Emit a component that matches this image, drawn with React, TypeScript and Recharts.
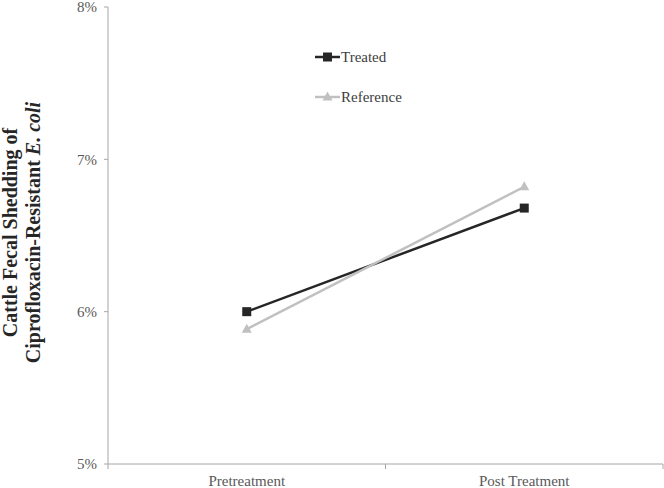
import React from 'react';
import { LineChart, Line, XAxis, YAxis, Legend } from 'recharts';

const categories = ['Pretreatment', 'Post Treatment'];
const seriesNames = ['Treated', 'Reference'];
const treated = [6.0, 6.68];
const reference = [5.885, 6.82];
const yTicks = [5, 6, 7, 8];

const data = categories.map((c, i) => ({
  name: c,
  pos: i + 0.5,
  Treated: treated[i],
  Reference: reference[i],
}));

const xTicks: number[] = [];
for (let i = 0; i <= categories.length; i++) {
  xTicks.push(i);
  if (i < categories.length) xTicks.push(i + 0.5);
}

const FONT = '"Liberation Serif", "Times New Roman", serif';
const AXIS_COLOR = '#a6a6a6';
const TEXT_COLOR = '#595959';
const TREATED_COLOR = '#262626';
const REF_COLOR = '#c0c0c0';

const XTick = (props: any) => {
  const { x, y, payload } = props;
  const v = payload.value;
  if (Number.isInteger(v)) {
    return <line x1={x} x2={x} y1={y} y2={y + 5} stroke={AXIS_COLOR} strokeWidth={1} />;
  }
  const idx = Math.floor(v);
  return (
    <text x={x} y={y + 22} textAnchor="middle" fontFamily={FONT} fontSize={15} fill={TEXT_COLOR}>
      {categories[idx]}
    </text>
  );
};

const SquareDot = (props: any) => {
  const { cx, cy, index } = props;
  return <rect key={`s${index}`} x={cx - 4.5} y={cy - 4.5} width={9} height={9} fill={TREATED_COLOR} />;
};

const TriDot = (props: any) => {
  const { cx, cy, index } = props;
  return (
    <polygon
      key={`t${index}`}
      points={`${cx},${cy - 5.5} ${cx + 5},${cy + 3.5} ${cx - 5},${cy + 3.5}`}
      fill={REF_COLOR}
    />
  );
};

const YLabel = (props: any) => {
  const vb = props.viewBox || {};
  const cy = vb.y + vb.height / 2 - 3;
  const l1x = 17;
  const l2x = 40;
  return (
    <g>
      <text
        x={l1x}
        y={cy}
        transform={`rotate(-90, ${l1x}, ${cy})`}
        textAnchor="middle"
        fontFamily={FONT}
        fontSize={20}
        fontWeight="bold"
        fill="#262626"
      >
        Cattle Fecal Shedding of
      </text>
      <text
        x={l2x}
        y={cy}
        transform={`rotate(-90, ${l2x}, ${cy})`}
        textAnchor="middle"
        fontFamily={FONT}
        fontSize={20}
        fontWeight="bold"
        fill="#262626"
      >
        Ciprofloxacin-Resistant <tspan fontStyle="italic">E. coli</tspan>
      </text>
    </g>
  );
};

const LegendContent = (props: any) => {
  const { payload } = props;
  const entries = [...(payload || [])].sort(
    (a: any, b: any) => seriesNames.indexOf(a.value) - seriesNames.indexOf(b.value)
  );
  return (
    <div style={{ fontFamily: FONT, fontSize: 15, color: '#404040' }}>
      {entries.map((entry: any, i: number) => (
        <div key={i} style={{ display: 'flex', alignItems: 'center', height: 20, marginBottom: 20 }}>
          <svg width={25} height={14} style={{ display: 'block' }}>
            <line x1={0} x2={25} y1={7} y2={7} stroke={entry.color} strokeWidth={2.5} />
            {entry.value === 'Treated' ? (
              <rect x={8} y={2.5} width={9} height={9} fill={TREATED_COLOR} />
            ) : (
              <polygon points="12.5,1.5 17.5,10.5 7.5,10.5" fill={REF_COLOR} />
            )}
          </svg>
          <span style={{ marginLeft: 1 }}>{entry.value}</span>
        </div>
      ))}
    </div>
  );
};

export default function App() {
  return (
    <div style={{ position: 'absolute', left: 0, top: 0, background: '#fff' }}>
      <LineChart width={664} height={488} data={data} margin={{ top: 7, right: 1, bottom: 0, left: 0 }}>
        <XAxis
          dataKey="pos"
          type="number"
          domain={[0, categories.length]}
          ticks={xTicks}
          interval={0}
          height={24}
          tickSize={0}
          tickMargin={0}
          tickLine={false}
          axisLine={{ stroke: AXIS_COLOR, strokeWidth: 1 }}
          tick={<XTick />}
        />
        <YAxis
          type="number"
          domain={[5, 8]}
          ticks={yTicks}
          interval={0}
          width={108}
          tickSize={4}
          tickMargin={7}
          tickLine={{ stroke: AXIS_COLOR }}
          axisLine={{ stroke: AXIS_COLOR, strokeWidth: 1 }}
          tick={{ fontFamily: FONT, fontSize: 15, fill: TEXT_COLOR }}
          tickFormatter={(v: number) => `${v}%`}
          label={<YLabel />}
        />
        <Legend
          layout="vertical"
          align="center"
          verticalAlign="middle"
          wrapperStyle={{ left: 315, top: 47, width: 'auto' }}
          content={<LegendContent />}
        />
        <Line
          type="linear"
          dataKey="Treated"
          stroke={TREATED_COLOR}
          strokeWidth={2.5}
          dot={<SquareDot />}
          activeDot={false}
          isAnimationActive={false}
        />
        <Line
          type="linear"
          dataKey="Reference"
          stroke={REF_COLOR}
          strokeWidth={2.5}
          dot={<TriDot />}
          activeDot={false}
          isAnimationActive={false}
        />
      </LineChart>
    </div>
  );
}
